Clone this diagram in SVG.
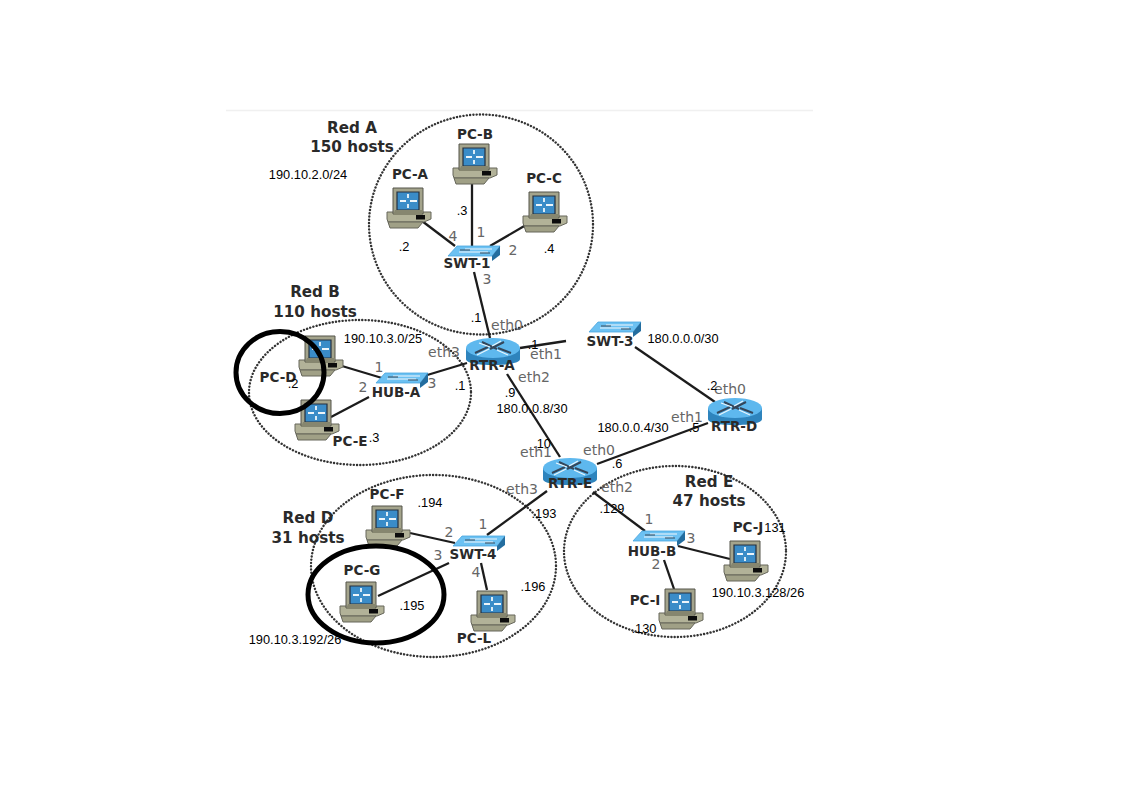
<svg xmlns="http://www.w3.org/2000/svg" width="1122" height="808" viewBox="0 0 1122 808">
<style>
.net{fill:none;stroke:#333;stroke-width:2.4;stroke-dasharray:.1 3.2;stroke-linecap:round}
.ring{fill:none;stroke:#000;stroke-width:5}
.wire{stroke:#1c1c1c;stroke-width:2.3;fill:none}
.name{font:bold 13.500px "DejaVu Sans",sans-serif;fill:#2a2a2a;text-anchor:middle}
.net-t{font:bold 15.200px "DejaVu Sans",sans-serif;fill:#2a2a2a;text-anchor:middle}
.port{font:14px "DejaVu Sans",sans-serif;fill:#666;text-anchor:middle}
.addr{font:12.800px "Liberation Sans",Arial,sans-serif;fill:#000;text-anchor:middle}
</style>
<defs>
<g id="pc">
<path d="M-6 24H38V31L31 34H-5L-6 31Z" fill="#b2b298" stroke="#66665a" stroke-width="1"/>
<path d="M-5 34H30L25 40H-3Z" fill="#a0a086" stroke="#66665a" stroke-width="1"/>
<path d="M0 0H30V26H0Z" fill="#a4a48c" stroke="#55554a" stroke-width="1"/>
<path d="M4 4H26V22H4Z" fill="#3a8cc8" stroke="#26303e" stroke-width="1.200"/>
<path d="M7 13H13M17 13H24M15 6V10M15 16V20" stroke="#edf5fa" stroke-width="1.800"/>
<path d="M2 22L0 27H28L30 24V22Z" fill="#86866f"/>
<rect x="23" y="27" width="9" height="4.500" fill="#0c0c0c"/>
</g>
<g id="router">
<path d="M0 10V21C0 25 12 27 27 27S54 25 54 21V10Z" fill="#2e84bd"/>
<ellipse cx="27" cy="10" rx="27" ry="10" fill="#5eb8ee"/>
<path d="M9 15L22 9M16 4L31 11M38 4L24 11M45 15L32 10" stroke="#34465a" stroke-width="2"/>
<path d="M11 17L23 11M35 3L26 8M13 5L24 9M42 17L31 12" stroke="#e9f5fc" stroke-width="1.200"/>
</g>
<g id="switch">
<path d="M0 12L9 2H52L44 12Z" fill="#6cc1f2" stroke="#4aa6e0" stroke-width=".8"/>
<path d="M44 12L52 2V11L44 17Z" fill="#236d9f"/>
<path d="M11 8H40M17 5H44" stroke="#f2f8fc" stroke-width="1.200"/>
<path d="M12 6H22M32 9H42" stroke="#3a4a58" stroke-width="1"/>
</g>
</defs>
<rect width="1122" height="808" fill="#fff"/>
<path d="M226 110.500H813" stroke="#f0f0f0" stroke-width="1.500"/>
<g id="networks">
<ellipse class="net" cx="481" cy="224.500" rx="112" ry="110"/>
<ellipse class="net" cx="360" cy="392.500" rx="111" ry="72.500"/>
<ellipse class="net" cx="433.500" cy="566" rx="122.500" ry="91"/>
<ellipse class="net" cx="675" cy="551.500" rx="111" ry="85.500"/>
</g>
<g id="connectors" class="wire">
<path d="M472 182V246"/>
<path d="M422 221L455 246"/>
<path d="M526 225L490 246"/>
<path d="M474 272L490 338"/>
<path d="M520 348L566 341"/>
<path d="M635 347L715 402"/>
<path d="M708 423L597 464"/>
<path d="M507 374L560 457"/>
<path d="M424 376L467 363"/>
<path d="M342 366L382 378"/>
<path d="M331 417L369 397"/>
<path d="M547 491L487 535"/>
<path d="M410 533L455 543"/>
<path d="M378 596L449 563"/>
<path d="M481 563L487 590"/>
<path d="M593 492L645 531"/>
<path d="M678 546L730 559"/>
<path d="M664 560L674 589"/>
</g>
<g id="PC-A"><use href="#pc" x="393" y="188"/><text class="name" x="410" y="179">PC-A</text></g>
<g id="PC-B"><use href="#pc" x="459" y="144"/><text class="name" x="475" y="139">PC-B</text></g>
<g id="PC-C"><use href="#pc" x="529" y="192"/><text class="name" x="544" y="183">PC-C</text></g>
<g id="PC-D"><use href="#pc" x="305" y="336"/><text class="name" x="278" y="382">PC-D</text></g>
<g id="PC-E"><use href="#pc" x="301" y="400"/><text class="name" x="350" y="446">PC-E</text></g>
<g id="PC-F"><use href="#pc" x="372" y="506"/><text class="name" x="387" y="499">PC-F</text></g>
<g id="PC-G"><use href="#pc" x="346" y="582"/><text class="name" x="362" y="575">PC-G</text></g>
<g id="PC-L"><use href="#pc" x="477" y="591"/><text class="name" x="474" y="643">PC-L</text></g>
<g id="PC-I"><use href="#pc" x="665" y="589"/><text class="name" x="645" y="605">PC-I</text></g>
<g id="PC-J"><use href="#pc" x="730" y="541"/><text class="name" x="748" y="532">PC-J</text></g>
<g id="SWT-1"><use href="#switch" x="448" y="244"/><text class="name" x="467" y="268">SWT-1</text></g>
<g id="SWT-3"><use href="#switch" x="589" y="320"/><text class="name" x="610" y="346">SWT-3</text></g>
<g id="SWT-4"><use href="#switch" x="453" y="534"/><text class="name" x="473" y="559">SWT-4</text></g>
<g id="HUB-A"><use href="#switch" x="376" y="371"/><text class="name" x="396" y="397">HUB-A</text></g>
<g id="HUB-B"><use href="#switch" x="633" y="529"/><text class="name" x="652" y="556">HUB-B</text></g>
<g id="RTR-A"><use href="#router" x="466" y="338"/><text class="name" x="492" y="370">RTR-A</text></g>
<g id="RTR-D"><use href="#router" x="708" y="398"/><text class="name" x="734" y="431">RTR-D</text></g>
<g id="RTR-E"><use href="#router" x="543" y="458"/><text class="name" x="570" y="488">RTR-E</text></g>
<g id="network-labels">
<text class="net-t" x="352" y="133">Red A</text><text class="net-t" x="352" y="152">150 hosts</text>
<text class="net-t" x="315" y="297">Red B</text><text class="net-t" x="315" y="317">110 hosts</text>
<text class="net-t" x="308" y="523">Red D</text><text class="net-t" x="308" y="543">31 hosts</text>
<text class="net-t" x="709" y="487">Red E</text><text class="net-t" x="709" y="506">47 hosts</text>
</g>
<g id="port-labels">
<text class="port" x="481" y="237">1</text><text class="port" x="453" y="241">4</text><text class="port" x="513" y="255">2</text><text class="port" x="487" y="284">3</text>
<text class="port" x="379" y="372">1</text><text class="port" x="363" y="392">2</text><text class="port" x="432" y="388">3</text>
<text class="port" x="483" y="529">1</text><text class="port" x="449" y="537">2</text><text class="port" x="438" y="560">3</text><text class="port" x="476" y="577">4</text>
<text class="port" x="649" y="524">1</text><text class="port" x="656" y="569">2</text><text class="port" x="691" y="543">3</text>
<text class="port" x="507" y="330">eth0</text><text class="port" x="546" y="359">eth1</text><text class="port" x="534" y="382">eth2</text><text class="port" x="444" y="357">eth3</text>
<text class="port" x="730" y="394">eth0</text><text class="port" x="687" y="422">eth1</text>
<text class="port" x="599" y="455">eth0</text><text class="port" x="536" y="457">eth1</text><text class="port" x="617" y="492">eth2</text><text class="port" x="522" y="494">eth3</text>
</g>
<g id="address-labels">
<text class="addr" x="308" y="179">190.10.2.0/24</text><text class="addr" x="462" y="215">.3</text><text class="addr" x="404" y="251">.2</text><text class="addr" x="549" y="253">.4</text>
<text class="addr" x="476" y="322">.1</text><text class="addr" x="383" y="343">190.10.3.0/25</text><text class="addr" x="293" y="388">.2</text><text class="addr" x="374" y="442">.3</text><text class="addr" x="460" y="390">.1</text>
<text class="addr" x="510" y="397">.9</text><text class="addr" x="532" y="413">180.0.0.8/30</text><text class="addr" x="533" y="349">.1</text>
<text class="addr" x="683" y="343">180.0.0.0/30</text><text class="addr" x="712" y="390">.2</text><text class="addr" x="633" y="432">180.0.0.4/30</text><text class="addr" x="694" y="432">.5</text>
<text class="addr" x="542" y="448">.10</text><text class="addr" x="617" y="468">.6</text>
<text class="addr" x="544" y="518">.193</text><text class="addr" x="430" y="507">.194</text><text class="addr" x="412" y="610">.195</text><text class="addr" x="533" y="591">.196</text><text class="addr" x="295" y="644">190.10.3.192/26</text>
<text class="addr" x="612" y="513">.129</text><text class="addr" x="775" y="532">131</text><text class="addr" x="644" y="633">.130</text><text class="addr" x="758" y="597">190.10.3.128/26</text>
</g>
<g id="highlights">
<ellipse class="ring" cx="280" cy="372.500" rx="44" ry="41"/>
<ellipse class="ring" cx="376" cy="594.500" rx="68" ry="48.500"/>
</g>
</svg>
